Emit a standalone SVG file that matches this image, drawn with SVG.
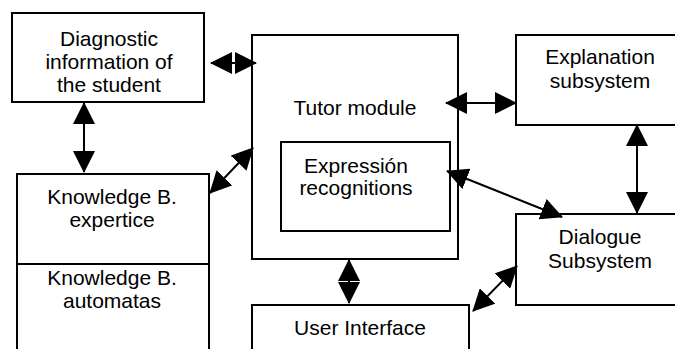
<svg xmlns="http://www.w3.org/2000/svg" width="675" height="349" viewBox="0 0 675 349">
<style>
.box{fill:#fff;stroke:#000;stroke-width:2}
.t{font-family:"Liberation Sans",Arial,sans-serif;font-size:21px;fill:#000;text-anchor:middle}
.c{stroke:#000;stroke-width:2;fill:none;marker-start:url(#ah);marker-end:url(#ah)}
</style>
<defs>
<marker id="ah" viewBox="0 0 22 22" markerWidth="22" markerHeight="22" markerUnits="userSpaceOnUse" refX="21" refY="11" orient="auto-start-reverse">
<path d="M0,0 L22,11 L0,22 z" fill="#000"/>
</marker>
</defs>
<rect width="675" height="349" fill="#fff"/>
<g id="diagnostic">
<rect class="box" x="12" y="13" width="192" height="89"/>
<text class="t" x="109" y="46">Diagnostic</text>
<text class="t" x="109" y="69">information of</text>
<text class="t" x="109" y="92">the student</text>
</g>
<g id="knowledge">
<rect class="box" x="17" y="174" width="192" height="190"/>
<line x1="17" y1="264" x2="209" y2="264" stroke="#000" stroke-width="2"/>
<text class="t" x="112" y="204">Knowledge B.</text>
<text class="t" x="112" y="227">expertice</text>
<text class="t" x="112" y="285">Knowledge B.</text>
<text class="t" x="112" y="308">automatas</text>
</g>
<g id="tutor">
<rect class="box" x="252" y="35" width="206" height="224"/>
<text class="t" x="355" y="115">Tutor module</text>
</g>
<g id="expression">
<rect class="box" x="281" y="142" width="169" height="89"/>
<text class="t" x="356" y="173">Expressión</text>
<text class="t" x="356" y="195">recognitions</text>
</g>
<g id="explanation">
<rect class="box" x="516" y="35" width="170" height="90"/>
<text class="t" x="600" y="64">Explanation</text>
<text class="t" x="600" y="88">subsystem</text>
</g>
<g id="dialogue">
<rect class="box" x="516" y="214" width="170" height="91"/>
<text class="t" x="600" y="244">Dialogue</text>
<text class="t" x="600" y="268">Subsystem</text>
</g>
<g id="userinterface">
<rect class="box" x="252" y="305" width="217" height="60"/>
<text class="t" x="360" y="335">User Interface</text>
</g>
<g id="connectors">
<line class="c" x1="211" y1="63" x2="256" y2="63"/>
<line class="c" x1="84" y1="103" x2="84" y2="172"/>
<line class="c" x1="210" y1="193" x2="253" y2="148"/>
<line class="c" x1="446" y1="103" x2="516" y2="103"/>
<line class="c" x1="447" y1="171" x2="562" y2="217"/>
<line class="c" x1="637" y1="125" x2="637" y2="213"/>
<line class="c" x1="349" y1="260" x2="349" y2="303"/>
<line class="c" x1="517" y1="266" x2="473" y2="311"/>
</g>
</svg>
